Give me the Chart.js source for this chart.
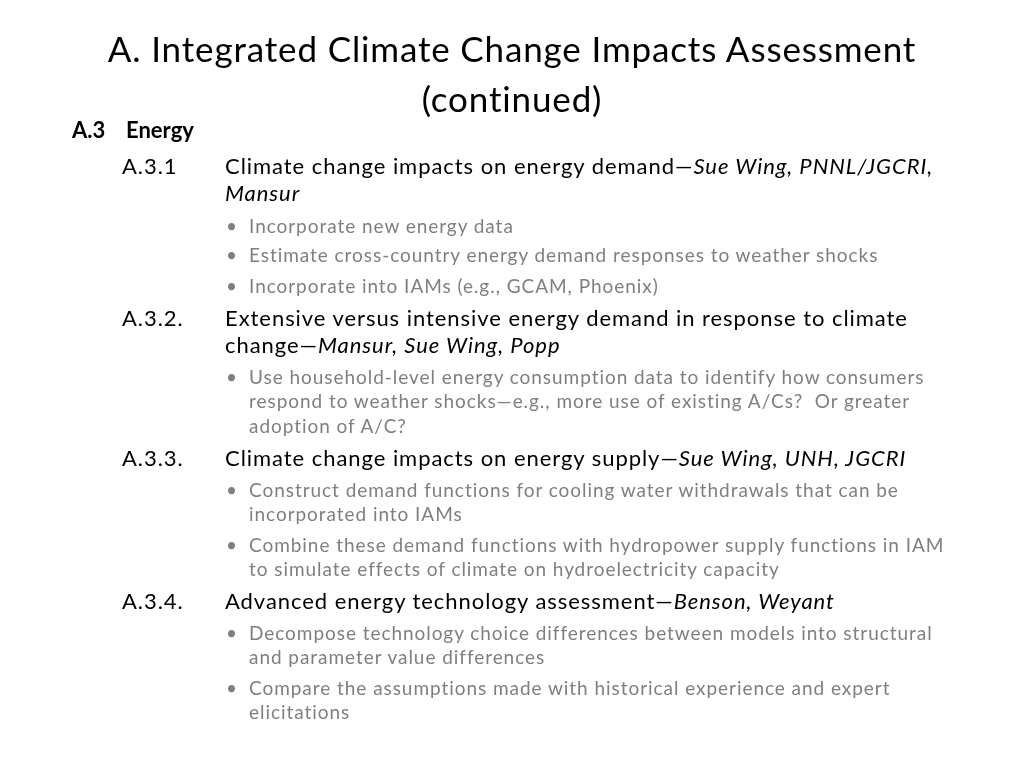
<!DOCTYPE html>
<html><head><meta charset="utf-8">
<script src="https://cdn.jsdelivr.net/npm/chart.js@4"></script>
<style>
html,body{margin:0;padding:0;background:#fff;width:1024px;height:768px;overflow:hidden;font-family:Lato,"Open Sans",sans-serif;}
#wrap{position:relative;width:1024px;height:768px;}
#bg{position:absolute;left:0;top:0;}
.t{position:absolute;white-space:nowrap;}
.title{font-size:35px;letter-spacing:0.85px;color:#000;width:1024px;text-align:center;left:0;}
.h{font-size:22px;font-weight:bold;color:#000;}
.l2{font-size:22px;letter-spacing:0.95px;color:#000;}
.b{font-size:19px;letter-spacing:0.95px;color:#7f7f7f;}
i{font-style:italic;}
</style></head><body>
<div id="wrap"><canvas id="bg" width="1024" height="768"></canvas></div>
<script>
const titleLines=["A. Integrated Climate Change Impacts Assessment","(continued)"];
const titleY=[48,98];
const section={label:"A.3",text:"Energy",y:130};
// [kind, x, centerY, html]
const lines=[
 ["l2",122,166,"A.3.1"],["l2",225,166,"Climate change impacts on energy demand—<i>Sue Wing, PNNL/JGCRI,</i>"],
 ["l2",225,193,"<i>Mansur</i>"],
 ["bd",226,226,"•"],["b",249,226,"Incorporate new energy data"],
 ["bd",226,255,"•"],["b",249,255,"Estimate cross-country energy demand responses to weather shocks"],
 ["bd",226,286,"•"],["b",249,286,"Incorporate into IAMs (e.g., GCAM, Phoenix)"],
 ["l2",122,318,"A.3.2."],["l2",225,318,"Extensive versus intensive energy demand in response to climate"],
 ["l2",225,345,"change—<i>Mansur, Sue Wing, Popp</i>"],
 ["bd",226,377,"•"],["b",249,377,"Use household-level energy consumption data to identify how consumers"],
 ["b",249,401,"respond to weather shocks—e.g., more use of existing A/Cs?&nbsp; Or greater"],
 ["b",249,426,"adoption of A/C?"],
 ["l2",122,458,"A.3.3."],["l2",225,458,"Climate change impacts on energy supply—<i>Sue Wing, UNH, JGCRI</i>"],
 ["bd",226,490,"•"],["b",249,490,"Construct demand functions for cooling water withdrawals that can be"],
 ["b",249,514,"incorporated into IAMs"],
 ["bd",226,545,"•"],["b",249,545,"Combine these demand functions with hydropower supply functions in IAM"],
 ["b",249,569,"to simulate effects of climate on hydroelectricity capacity"],
 ["l2",122,601,"A.3.4."],["l2",225,601,"Advanced energy technology assessment—<i>Benson, Weyant</i>"],
 ["bd",226,633,"•"],["b",249,633,"Decompose technology choice differences between models into structural"],
 ["b",249,657,"and parameter value differences"],
 ["bd",226,688,"•"],["b",249,688,"Compare the assumptions made with historical experience and expert"],
 ["b",249,712,"elicitations"]
];
new Chart(document.getElementById('bg'),{type:'bar',data:{labels:[],datasets:[]},
 options:{responsive:false,animation:false,plugins:{legend:{display:false},tooltip:{enabled:false}},scales:{x:{display:false},y:{display:false}}}});
const wrap=document.getElementById('wrap');
function add(cls,x,cy,html,lh){const d=document.createElement('div');d.className='t '+cls;
 d.style.lineHeight=lh+'px';d.style.height=lh+'px';d.style.top=(cy-lh/2)+'px';if(x!==null)d.style.left=x+'px';d.innerHTML=html;wrap.appendChild(d);}
titleLines.forEach((s,i)=>add('title',null,titleY[i],s,44));
add('h',72,section.y,section.label,28);add('h',126,section.y,section.text,28);
lines.forEach(([k,x,y,h])=>add(k==='bd'?'b':k,x,y,h,k==='l2'?28:24));
</script></body></html>
